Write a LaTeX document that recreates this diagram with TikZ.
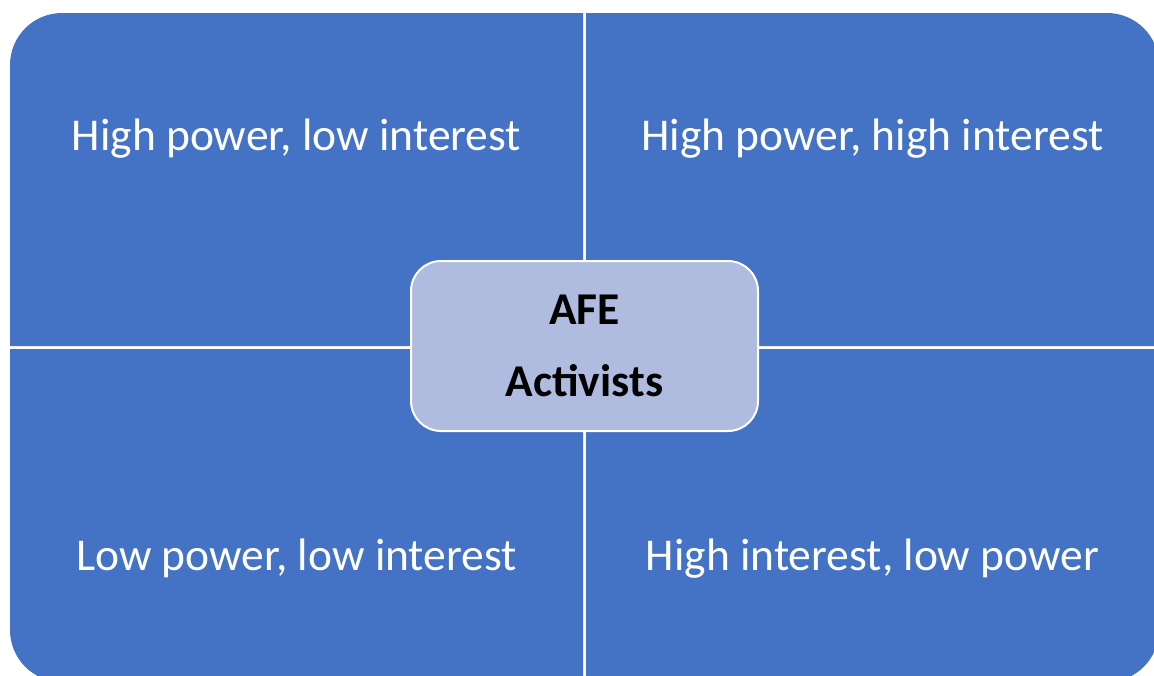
\documentclass[tikz,border=0pt]{standalone}
\usepackage{fontspec}
\setmainfont{Carlito}
\definecolor{quadblue}{HTML}{4472C4}
\definecolor{centerfill}{HTML}{AFBCDF}
\begin{document}
\begin{tikzpicture}[x=1pt,y=-1pt,
  quad/.style={fill=quadblue},
  quadtext/.style={text=white,anchor=base,inner sep=0pt,font=\fontsize{45.5}{54}\selectfont},
  centerbox/.style={fill=centerfill,draw=white,line width=2pt,rounded corners=30pt,
    minimum width=347pt,minimum height=170pt,align=center,
    font=\fontsize{45.5}{72}\selectfont\bfseries}]
\useasboundingbox (0,0) rectangle (1154,675);
\clip (0,0) rectangle (1154,675);
% quadrants
\fill[quad] (10,346) -- (10,65) arc[start angle=180,end angle=270,radius=52] -- (583,13) -- (583,346) -- cycle;
\fill[quad] (586,346) -- (586,13) -- (1107,13) arc[start angle=270,end angle=360,radius=52] -- (1159,346) -- cycle;
\fill[quad] (10,349) -- (583,349) -- (583,682) -- (62,682) arc[start angle=90,end angle=180,radius=52] -- cycle;
\fill[quad] (586,349) -- (1159,349) -- (1159,630) arc[start angle=0,end angle=90,radius=52] -- (586,682) -- cycle;
% texts
\node[quadtext] (tl) at (296.5,150) {High power, low interest};
\node[quadtext] (tr) at (872.5,150) {High power, high interest};
\node[quadtext] (bl) at (296.5,570) {Low power, low interest};
\node[quadtext] (br) at (872.5,570) {High interest, low power};
% center
\node[centerbox] (center) at (584.5,346) {AFE\\Activists};
\end{tikzpicture}
\end{document}
